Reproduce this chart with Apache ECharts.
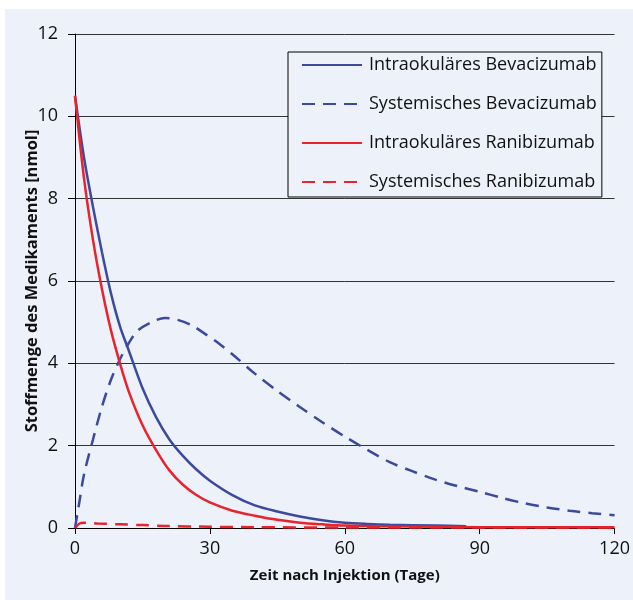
<!DOCTYPE html>
<html>
<head>
<meta charset="utf-8">
<script src="https://cdn.jsdelivr.net/npm/echarts@6/dist/echarts.min.js"></script>
<style>
  html, body { margin: 0; padding: 0; background: #fff; }
  #chart { width: 633px; height: 600px; }
</style>
</head>
<body>
<div id="chart"></div>
<script>
// values (days, nmol)
var bevaIntraT = [0, 2, 4, 6, 8, 10, 12, 15, 18, 21, 24, 27, 30, 35, 40, 45, 50, 55, 60, 65, 70, 80, 87];
var bevaIntraV = [10.5, 9.0, 7.8, 6.7, 5.7, 4.9, 4.3, 3.4, 2.7, 2.15, 1.75, 1.42, 1.15, 0.8, 0.55, 0.4, 0.28, 0.19, 0.13, 0.1, 0.08, 0.06, 0.04];

var bevaSysT = [0, 1, 2, 4, 6, 8, 10, 12, 14, 17, 20, 23, 26, 29, 32, 35, 40, 45, 50, 55, 60, 65, 70, 75, 80, 85, 90, 95, 100, 105, 110, 115, 120];
var bevaSysV = [0, 0.65, 1.3, 2.15, 2.95, 3.6, 4.1, 4.5, 4.8, 5.0, 5.1, 5.05, 4.92, 4.71, 4.48, 4.22, 3.75, 3.33, 2.94, 2.57, 2.22, 1.9, 1.6, 1.38, 1.18, 1.02, 0.88, 0.73, 0.6, 0.5, 0.42, 0.36, 0.31];

var raniIntraT = [0, 2, 4, 6, 8, 10, 12, 15, 18, 21, 24, 27, 30, 35, 40, 45, 50, 55, 60, 70, 80, 90, 120];
var raniIntraV = [10.5, 8.5, 7.0, 5.8, 4.8, 4.0, 3.3, 2.5, 1.9, 1.4, 1.05, 0.8, 0.62, 0.42, 0.3, 0.2, 0.13, 0.09, 0.06, 0.04, 0.03, 0.02, 0.02];

var raniSysT = [0, 1, 2, 5, 10, 15, 20, 30, 40, 60, 90, 120];
var raniSysV = [0, 0.11, 0.13, 0.11, 0.09, 0.07, 0.05, 0.03, 0.02, 0.01, 0.01, 0.01];

var seriesNames = ['Intraokuläres Bevacizumab', 'Systemisches Bevacizumab', 'Intraokuläres Ranibizumab', 'Systemisches Ranibizumab'];
var xTicks = [0, 30, 60, 90, 120];

var BLUE = '#3b4a9e';
var RED = '#e8232b';
var FONT = 'Open Sans';

function pairs(t, v) {
  return t.map(function (x, i) { return [x, v[i]]; });
}

function lineSeries(name, t, v, color, dashed) {
  return {
    name: name,
    type: 'line',
    data: pairs(t, v),
    smooth: 0.3,
    symbol: 'none',
    lineStyle: { color: color, width: 2.5, type: dashed ? [13, 8] : 'solid' },
    itemStyle: { color: color }
  };
}

var myChart = echarts.init(document.getElementById('chart'));

myChart.setOption({
  backgroundColor: '#fff',
  animation: false,
  graphic: [{
    type: 'rect',
    shape: { x: 5, y: 9, width: 628, height: 591 },
    style: { fill: '#edf1f9' },
    z: -10
  }],
  grid: { left: 75, right: 18, top: 34, bottom: 72 },
  legend: {
    orient: 'vertical',
    left: 288,
    top: 52,
    padding: [3, 5, 5, 13],
    itemWidth: 60,
    itemHeight: 14,
    itemGap: 19,
    borderColor: '#000',
    borderWidth: 1,
    backgroundColor: '#edf1f9',
    itemStyle: { opacity: 0 },
    textStyle: { fontFamily: FONT, fontSize: 18, color: '#111', lineHeight: 20, padding: [0, 0, 0, 2] },
    data: seriesNames
  },
  xAxis: {
    type: 'value',
    min: 0,
    max: 120,
    interval: 30,
    name: 'Zeit nach Injektion (Tage)',
    nameLocation: 'middle',
    nameGap: 40,
    nameMoveOverlap: false,
    nameTextStyle: { fontFamily: FONT, fontSize: 15, fontWeight: 'bold', color: '#111' },
    axisLine: { lineStyle: { color: '#000', width: 1 } },
    axisTick: { length: 6, lineStyle: { color: '#000' } },
    axisLabel: {
      fontFamily: FONT, fontSize: 18, color: '#111', margin: 12,
      formatter: function (v) { return xTicks.indexOf(v) >= 0 ? String(v) : ''; }
    },
    splitLine: { show: false }
  },
  yAxis: {
    type: 'value',
    min: 0,
    max: 12,
    interval: 2,
    name: 'Stoffmenge des Medikaments [nmol]',
    nameLocation: 'middle',
    nameGap: 34,
    nameMoveOverlap: false,
    nameTextStyle: { fontFamily: FONT, fontSize: 16.5, fontWeight: 'bold', color: '#111' },
    axisLine: { show: true, lineStyle: { color: '#000', width: 1 } },
    axisTick: { show: true, length: 7, lineStyle: { color: '#000' } },
    axisLabel: { fontFamily: FONT, fontSize: 18, color: '#111', margin: 17 },
    splitLine: { show: true, lineStyle: { color: '#333', width: 1 } }
  },
  series: [
    lineSeries(seriesNames[0], bevaIntraT, bevaIntraV, BLUE, false),
    lineSeries(seriesNames[1], bevaSysT, bevaSysV, BLUE, true),
    lineSeries(seriesNames[2], raniIntraT, raniIntraV, RED, false),
    lineSeries(seriesNames[3], raniSysT, raniSysV, RED, true)
  ]
});
</script>
</body>
</html>
